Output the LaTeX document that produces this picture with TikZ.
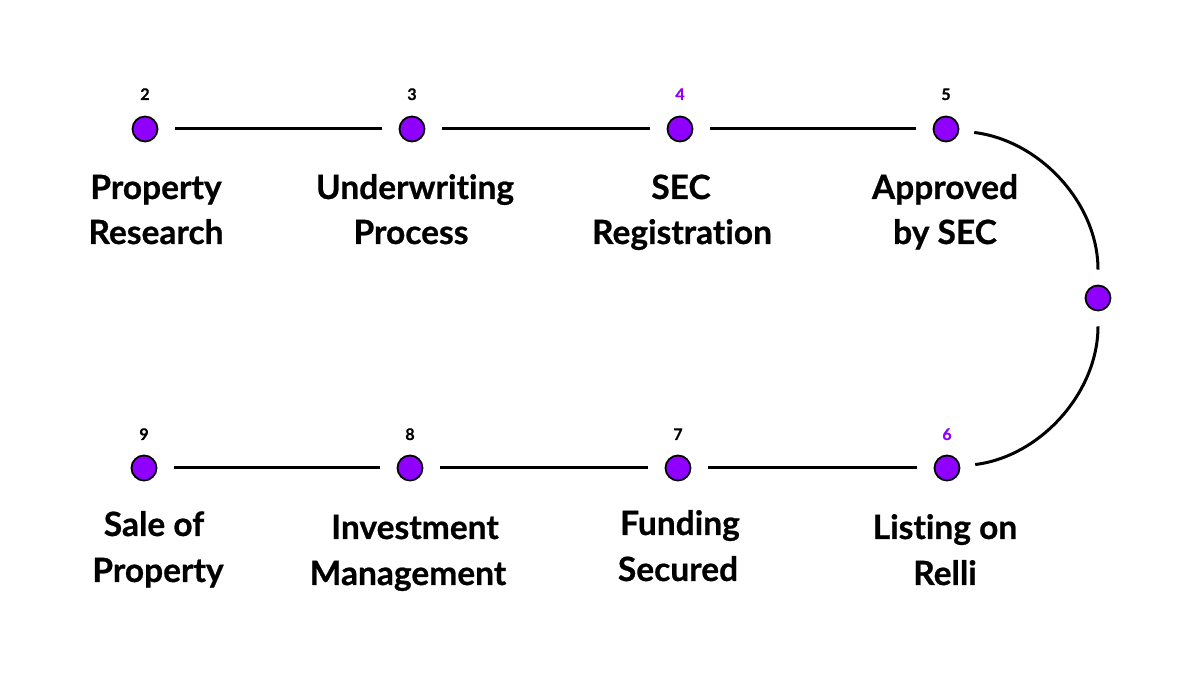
\documentclass[tikz,border=0pt]{standalone}
\usepackage{fontspec}
\setmainfont{Lato}[RawFeature=-liga,BoldFeatures={FakeBold=0.7}]
\definecolor{dotpurple}{HTML}{8F00FF}
\begin{document}
\begin{tikzpicture}[x=1pt,y=1pt,
  dot/.style={circle,draw=black,line width=1.8pt,fill=dotpurple,minimum size=25pt,inner sep=0pt},
  num/.style={font=\fontsize{16}{18}\selectfont\bfseries,anchor=base,inner sep=0pt},
  lbl/.style={font=\fontsize{33.5}{40}\selectfont\bfseries,anchor=base,inner sep=0pt},
  conn/.style={line width=3pt,shorten <=17pt,shorten >=17pt},
  arcconn/.style={line width=3pt,shorten <=15pt,shorten >=15pt}]
\useasboundingbox (0,0) rectangle (1200,675);
% dots
\node[dot] (n2) at (145,546) {};
\node[dot] (n3) at (412,546) {};
\node[dot] (n4) at (680,546) {};
\node[dot] (n5) at (946,546) {};
\node[dot] (nR) at (1098,377) {};
\node[dot] (n6) at (947,207) {};
\node[dot] (n7) at (678,207) {};
\node[dot] (n8) at (410,207) {};
\node[dot] (n9) at (144,207) {};
% numbers
\node[num] (t2) at (145,575) {2};
\node[num] (t3) at (412,575) {3};
\node[num,text=dotpurple] (t4) at (680,575) {4};
\node[num] (t5) at (946,575) {5};
\node[num,text=dotpurple] (t6) at (947,235) {6};
\node[num] (t7) at (678,235) {7};
\node[num] (t8) at (410,235) {8};
\node[num] (t9) at (144,235) {9};
% labels top
\node[lbl] (l2a) at (156,476) {Property};
\node[lbl] (l2b) at (156,431) {Research};
\node[lbl] (l3a) at (415,476) {Underwriting};
\node[lbl] (l3b) at (411,431) {Process};
\node[lbl] (l4a) at (681,476) {SEC};
\node[lbl] (l4b) at (682,431) {Registration};
\node[lbl] (l5a) at (945,476) {Approved};
\node[lbl] (l5b) at (945,431) {by SEC};
% labels bottom
\node[lbl] (l9a) at (154,139) {Sale of};
\node[lbl] (l9b) at (158,93) {Property};
\node[lbl] (l8a) at (415,136) {Investment};
\node[lbl] (l8b) at (408,90) {Management};
\node[lbl] (l7a) at (680,140) {Funding};
\node[lbl] (l7b) at (678,94) {Secured};
\node[lbl] (l6a) at (945,136) {Listing on};
\node[lbl] (l6b) at (945,90) {Relli};
% connectors
\draw[conn] (n2) -- (n3);
\draw[conn] (n3) -- (n4);
\draw[conn] (n4) -- (n5);
\draw[arcconn] (n5) to[out=-7,in=90] (nR);
\draw[arcconn] (nR) to[out=-90,in=7] (n6);
\draw[conn] (n6) -- (n7);
\draw[conn] (n7) -- (n8);
\draw[conn] (n8) -- (n9);
\end{tikzpicture}
\end{document}
